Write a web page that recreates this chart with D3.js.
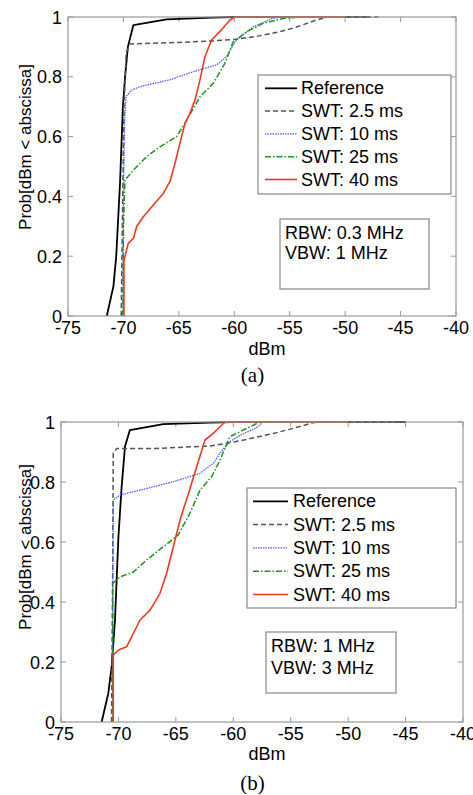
<!DOCTYPE html>
<html>
<head>
<meta charset="utf-8">
<script src="https://cdn.jsdelivr.net/npm/d3@7"></script>
<style>
  body { margin: 0; background: #fff; }
  svg text { font-family: "Liberation Sans", Arial, sans-serif; }
</style>
</head>
<body>
<div id="chart"></div>
<script>
const xTicks = [-75, -70, -65, -60, -55, -50, -45, -40];
const yTicks = [0, 0.2, 0.4, 0.6, 0.8, 1];
const seriesNames = ["Reference", "SWT: 2.5 ms", "SWT: 10 ms", "SWT: 25 ms", "SWT: 40 ms"];

// panel (a) : RBW 0.3 MHz
const refA = [[-71.5,0],[-70.9,0.1],[-70.65,0.2],[-70.3,0.45],[-70.05,0.7],[-69.85,0.8],[-69.6,0.9],[-69.1,0.973],[-66.1,0.992],[-62,0.998],[-60,1],[-47.8,1]];
const swt25A = [[-70.2,0],[-70.1,0.3],[-69.95,0.7],[-69.75,0.88],[-69.4,0.91],[-65,0.915],[-62,0.92],[-60,0.925],[-58,0.935],[-56,0.95],[-54.5,0.965],[-52.6,0.99],[-51.5,1],[-47,1]];
const swt10A = [[-70.05,0],[-70.0,0.4],[-69.9,0.65],[-69.77,0.733],[-69.3,0.755],[-68.5,0.767],[-67,0.78],[-65.8,0.79],[-63.7,0.817],[-61.6,0.84],[-60.7,0.867],[-60.2,0.9],[-59.8,0.923],[-58.3,0.967],[-56.5,0.996],[-55.5,1],[-50,1]];
const swt250A = [[-70.05,0],[-70.0,0.3],[-69.86,0.455],[-69.1,0.488],[-67.9,0.533],[-66.7,0.566],[-65.2,0.6],[-64.45,0.645],[-63.1,0.733],[-61.9,0.778],[-60.85,0.845],[-60.1,0.917],[-58.9,0.95],[-57.4,0.979],[-55.6,0.995],[-54,1],[-50,1]];
const swt40A = [[-69.95,0],[-69.95,0.187],[-69.56,0.243],[-69.1,0.26],[-68.8,0.3],[-68.2,0.332],[-67.15,0.378],[-66.4,0.41],[-65.8,0.45],[-65.35,0.51],[-64.9,0.578],[-64.45,0.644],[-64.0,0.678],[-63.55,0.722],[-63.1,0.789],[-62.65,0.867],[-62.05,0.923],[-61.15,0.957],[-60.4,0.99],[-59.9,1],[-50,1]];

// panel (b) : RBW 1 MHz
const refB = [[-71.46,0],[-70.88,0.096],[-70.59,0.184],[-70.3,0.34],[-70.0,0.618],[-69.72,0.784],[-69.43,0.918],[-69.0,0.973],[-66.1,0.993],[-62,0.998],[-60,1],[-45,1]];
const swt25B = [[-70.6,0],[-70.5,0.5],[-70.45,0.896],[-70.15,0.912],[-66.7,0.912],[-62,0.92],[-60.87,0.927],[-58.83,0.942],[-56.5,0.962],[-54.77,0.979],[-53,0.998],[-52,1],[-46,1]];
const swt10B = [[-70.5,0],[-70.5,0.4],[-70.45,0.74],[-69.86,0.757],[-68.1,0.773],[-65.2,0.801],[-62.9,0.829],[-61.74,0.862],[-61.16,0.896],[-60.3,0.935],[-59.2,0.96],[-58,0.98],[-57.4,1],[-50,1]];
const swt250B = [[-70.5,0],[-70.5,0.3],[-70.5,0.462],[-69.86,0.484],[-68.7,0.5],[-67.54,0.54],[-66.1,0.584],[-64.8,0.623],[-63.77,0.696],[-62.9,0.773],[-61.88,0.818],[-61.16,0.873],[-60.3,0.951],[-58.55,0.984],[-57.7,1],[-50,1]];
const swt40B = [[-70.45,0],[-70.45,0.223],[-70.0,0.24],[-69.28,0.251],[-68.85,0.284],[-68.12,0.34],[-67.25,0.373],[-66.38,0.429],[-65.8,0.496],[-65.22,0.584],[-64.64,0.673],[-63.9,0.762],[-63.19,0.851],[-62.46,0.94],[-61.74,0.962],[-61.0,0.99],[-60.7,1],[-50,1]];

const styles = [
  {color: "#000000", width: 1.8, dash: null},
  {color: "#555555", width: 1.5, dash: "5,3"},
  {color: "#4a5cff", width: 1.3, dash: "1.5,1"},
  {color: "#1c951c", width: 1.5, dash: "6,2,1.5,2"},
  {color: "#f23a1a", width: 1.6, dash: null}
];

const svg = d3.select("#chart").append("svg")
  .attr("width", 473).attr("height", 795);

function drawPanel(p) {
  const x = d3.scaleLinear().domain([-75, -40]).range([p.left, p.right]);
  const y = d3.scaleLinear().domain([0, 1]).range([p.bottom, p.top]);
  const g = svg.append("g");

  g.append("clipPath").attr("id", "clip" + p.id)
    .append("rect").attr("x", p.left).attr("y", p.top - 2)
    .attr("width", p.right - p.left).attr("height", p.bottom - p.top + 2);

  // ticks inside, on all four sides
  const tl = 5;
  xTicks.forEach(t => {
    g.append("line").attr("x1", x(t)).attr("x2", x(t)).attr("y1", p.bottom).attr("y2", p.bottom - tl).attr("stroke", "#999");
    g.append("line").attr("x1", x(t)).attr("x2", x(t)).attr("y1", p.top).attr("y2", p.top + tl).attr("stroke", "#999");
    g.append("text").attr("x", x(t)).attr("y", p.tickY).attr("text-anchor", "middle")
      .attr("font-size", 18).text(t);
  });
  yTicks.forEach(t => {
    g.append("line").attr("x1", p.left).attr("x2", p.left + tl).attr("y1", y(t)).attr("y2", y(t)).attr("stroke", "#999");
    g.append("line").attr("x1", p.right).attr("x2", p.right - tl).attr("y1", y(t)).attr("y2", y(t)).attr("stroke", "#999");
    g.append("text").attr("x", p.left - 6).attr("y", y(t) + 6.5).attr("text-anchor", "end")
      .attr("font-size", 18).text(t);
  });

  const line = d3.line().x(d => x(d[0])).y(d => y(d[1]));
  const lines = g.append("g").attr("clip-path", `url(#clip${p.id})`);
  p.series.forEach((s, i) => {
    const st = styles[i];
    lines.append("path").datum(s).attr("d", line)
      .attr("fill", "none").attr("stroke", st.color).attr("stroke-width", st.width)
      .attr("stroke-dasharray", st.dash).attr("stroke-linejoin", "round");
  });

  g.append("rect").attr("x", p.left).attr("y", p.top)
    .attr("width", p.right - p.left).attr("height", p.bottom - p.top)
    .attr("fill", "none").attr("stroke", "#999").attr("stroke-width", 1.2);

  // axis labels
  g.append("text").attr("x", (p.left + p.right) / 2 + 5).attr("y", p.labelY)
    .attr("text-anchor", "middle").attr("font-size", 18).text("dBm");
  g.append("text").attr("transform", `translate(${p.yLabelX},${p.yLabelMid}) rotate(-90)`)
    .attr("text-anchor", "middle").attr("font-size", 17).text("Prob[dBm < abscissa]");
  g.append("text").attr("x", 252.5).attr("y", p.capY).attr("text-anchor", "middle")
    .style("font-family", "'Liberation Serif', 'Times New Roman', serif")
    .attr("font-size", 21).text(p.caption);

  // legend
  const L = p.legend;
  g.append("rect").attr("x", L.x0).attr("y", L.y0).attr("width", L.x1 - L.x0).attr("height", L.y1 - L.y0)
    .attr("fill", "#fff").attr("stroke", "#888").attr("stroke-width", 1.2);
  seriesNames.forEach((name, i) => {
    const by = L.base + i * L.step;
    const st = styles[i];
    g.append("line").attr("x1", L.lx0).attr("x2", L.lx1).attr("y1", by - 6).attr("y2", by - 6)
      .attr("stroke", st.color).attr("stroke-width", st.width).attr("stroke-dasharray", st.dash);
    g.append("text").attr("x", L.tx).attr("y", by).attr("font-size", 18).text(name);
  });

  // annotation
  const A = p.note;
  g.append("rect").attr("x", A.x0).attr("y", A.y0).attr("width", A.x1 - A.x0).attr("height", A.y1 - A.y0)
    .attr("fill", "#fff").attr("stroke", "#888").attr("stroke-width", 1.2);
  A.lines.forEach((t, i) => {
    g.append("text").attr("x", A.tx).attr("y", A.base + i * A.step).attr("font-size", 18).text(t);
  });
}

drawPanel({
  id: "a", left: 68, right: 456, top: 17, bottom: 316,
  tickY: 334, labelY: 355, capY: 382, caption: "(a)",
  yLabelX: 31, yLabelMid: 147,
  series: [refA, swt25A, swt10A, swt250A, swt40A],
  legend: {x0: 258, x1: 451, y0: 75, y1: 194, lx0: 265, lx1: 297, tx: 301, base: 94.3, step: 22.8},
  note: {x0: 280, x1: 429, y0: 219, y1: 289, tx: 285, base: 238.5, step: 20.7, lines: ["RBW: 0.3 MHz", "VBW: 1 MHz"]}
});

drawPanel({
  id: "b", left: 61, right: 463, top: 422, bottom: 722,
  tickY: 740, labelY: 760, capY: 790, caption: "(b)",
  yLabelX: 31, yLabelMid: 547,
  series: [refB, swt25B, swt10B, swt250B, swt40B],
  legend: {x0: 247, x1: 456, y0: 488, y1: 608, lx0: 253, lx1: 288, tx: 293, base: 507.3, step: 23.3},
  note: {x0: 266, x1: 396, y0: 632, y1: 693, tx: 271, base: 652, step: 22.3, lines: ["RBW: 1 MHz", "VBW: 3 MHz"]}
});
</script>
</body>
</html>
